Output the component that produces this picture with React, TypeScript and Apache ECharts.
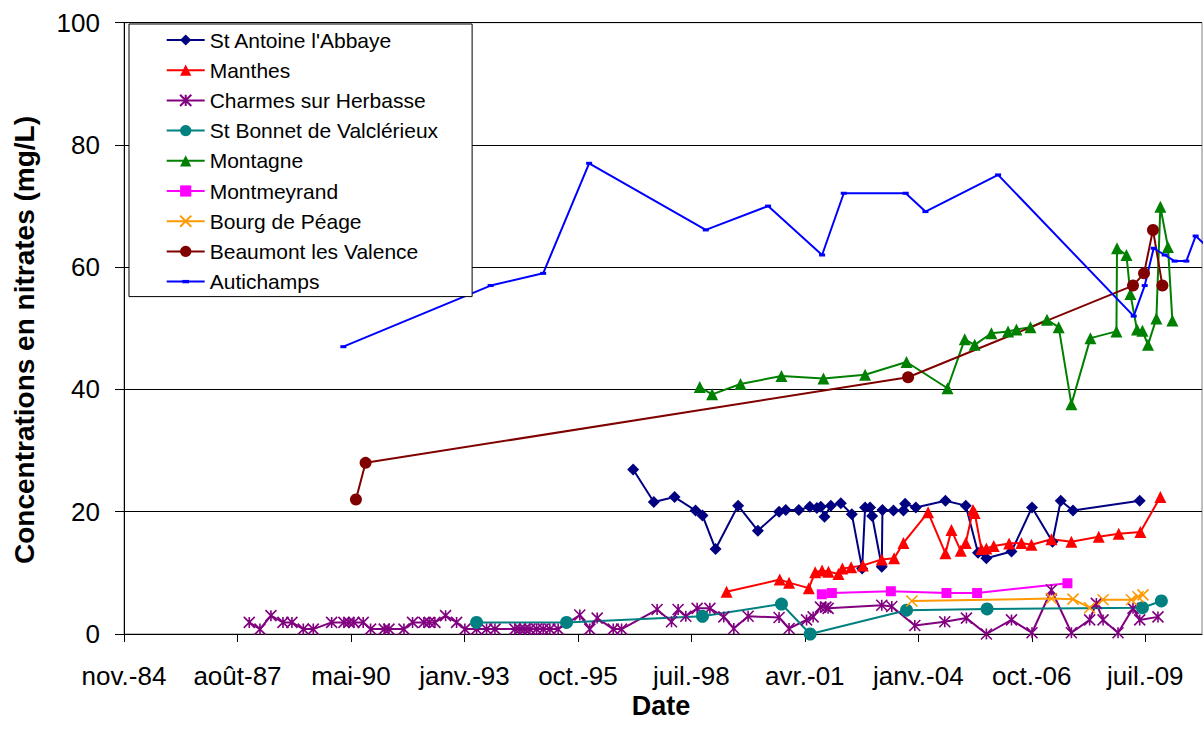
import React, { useEffect, useRef } from 'react';
import * as echarts from 'echarts';

// ---- data (date, nitrates mg/L) ----
const stAntoine: [string, number][] = [
  ['1997-02-26', 26.9], ['1997-08-27', 21.6], ['1998-02-26', 22.4], ['1998-08-30', 20.2], ['1998-10-30', 19.4],
  ['1999-02-22', 13.9], ['1999-09-09', 21.0], ['2000-03-01', 16.9], ['2000-09-04', 20.0], ['2000-11-02', 20.3],
  ['2001-02-25', 20.3], ['2001-06-02', 20.8], ['2001-08-03', 20.6], ['2001-09-07', 20.8], ['2001-10-09', 19.2],
  ['2001-12-04', 21.0], ['2002-03-02', 21.4], ['2002-06-07', 19.6], ['2002-09-06', 10.7], ['2002-10-02', 20.7],
  ['2002-11-15', 20.7], ['2002-12-03', 19.3], ['2003-02-26', 11.0], ['2003-03-04', 20.3], ['2003-06-09', 20.2],
  ['2003-09-05', 20.2], ['2003-09-20', 21.3], ['2003-12-23', 20.7], ['2004-09-09', 21.8], ['2005-03-07', 21.0],
  ['2005-06-23', 13.3], ['2005-09-05', 12.4], ['2006-04-14', 13.5], ['2006-10-12', 20.7], ['2007-04-10', 15.1],
  ['2007-06-22', 21.8], ['2007-10-08', 20.2], ['2009-05-18', 21.8],
];
const manthes: [string, number][] = [
  ['1999-05-30', 6.9], ['2000-09-10', 8.9], ['2000-12-01', 8.4], ['2001-05-24', 7.5], ['2001-07-19', 10.1],
  ['2001-09-18', 10.4], ['2001-11-13', 10.2], ['2002-02-09', 9.8], ['2002-03-16', 10.7], ['2002-06-01', 10.9],
  ['2002-09-12', 11.2], ['2003-02-26', 12.2], ['2003-06-15', 12.4], ['2003-09-05', 14.9], ['2004-04-09', 19.9],
  ['2004-09-09', 13.2], ['2004-11-01', 17.0], ['2005-01-22', 13.6], ['2005-03-07', 14.9], ['2005-05-10', 20.3],
  ['2005-05-25', 19.8], ['2005-07-23', 13.9], ['2005-09-05', 14.0], ['2005-11-09', 14.4], ['2006-03-24', 14.8],
  ['2006-07-11', 14.9], ['2006-10-07', 14.6], ['2007-04-01', 15.5], ['2007-09-24', 15.1], ['2008-05-22', 15.9],
  ['2008-11-14', 16.4], ['2009-05-24', 16.7], ['2009-11-16', 22.4],
];
const charmes: [string, number][] = [
  ['1987-11-23', 1.9], ['1988-02-25', 0.8], ['1988-06-01', 3.0], ['1988-09-15', 1.9], ['1988-12-03', 1.9],
  ['1989-03-13', 0.8], ['1989-06-09', 0.8], ['1989-11-18', 1.9], ['1990-03-06', 1.9], ['1990-04-19', 1.9],
  ['1990-06-02', 1.9], ['1990-08-23', 1.9], ['1990-10-27', 0.8], ['1991-02-24', 0.8], ['1991-04-07', 0.8],
  ['1991-08-17', 0.8], ['1991-11-01', 1.9], ['1992-02-09', 1.9], ['1992-03-27', 1.9], ['1992-05-16', 1.9],
  ['1992-08-18', 3.0], ['1992-11-23', 1.9], ['1993-02-04', 0.8], ['1993-05-18', 0.8], ['1993-08-14', 0.8],
  ['1993-10-27', 0.8], ['1994-04-21', 0.8], ['1994-06-04', 0.8], ['1994-07-18', 0.8], ['1994-08-31', 0.8],
  ['1994-10-29', 0.8], ['1994-12-26', 0.8], ['1995-02-23', 0.8], ['1995-05-07', 0.8], ['1995-11-14', 3.1],
  ['1996-02-10', 0.8], ['1996-04-15', 2.6], ['1996-09-03', 0.8], ['1996-11-16', 0.8], ['1997-09-25', 4.0],
  ['1998-01-30', 2.0], ['1998-03-29', 4.0], ['1998-06-05', 2.9], ['1998-09-13', 4.2], ['1999-01-03', 4.2],
  ['1999-05-06', 2.8], ['1999-08-02', 0.9], ['1999-12-06', 2.9], ['2000-09-04', 2.7], ['2000-12-01', 0.9],
  ['2001-05-04', 2.3], ['2001-07-01', 2.8], ['2001-09-04', 4.4], ['2001-10-21', 4.4], ['2001-11-10', 4.2],
  ['2003-02-26', 4.7], ['2003-05-25', 4.5], ['2003-12-14', 1.4], ['2004-09-03', 2.0], ['2005-03-13', 2.6],
  ['2005-09-05', 0.0], ['2006-04-14', 2.3], ['2006-10-12', 0.2], ['2007-04-01', 7.2], ['2007-09-24', 0.2],
  ['2008-03-03', 2.3], ['2008-05-01', 5.0], ['2008-06-29', 2.3], ['2008-11-08', 0.2], ['2009-03-20', 4.2],
  ['2009-05-18', 2.3], ['2009-10-26', 2.8],
];
const stBonnet: [string, number][] = [
  ['1993-05-18', 1.9], ['1995-07-20', 1.9], ['1998-10-30', 2.9], ['2000-09-25', 4.9], ['2001-06-05', 0.0],
  ['2003-10-02', 3.9], ['2005-09-11', 4.1], ['2009-06-11', 4.3], ['2009-11-25', 5.4],
];
const montagne: [string, number][] = [
  ['1998-10-06', 40.4], ['1999-01-23', 39.2], ['1999-09-30', 40.9], ['2000-09-25', 42.2], ['2001-09-30', 41.8],
  ['2002-10-02', 42.4], ['2003-10-02', 44.5], ['2004-09-27', 40.2], ['2005-02-26', 48.2], ['2005-05-25', 47.3],
  ['2005-10-19', 49.2], ['2006-03-15', 49.5], ['2006-05-28', 49.8], ['2006-09-28', 50.2], ['2007-02-21', 51.4],
  ['2007-06-04', 50.2], ['2007-09-24', 37.6], ['2008-03-10', 48.4], ['2008-10-25', 49.5], ['2008-10-30', 63.1],
  ['2009-01-21', 62.0], ['2009-02-25', 55.6], ['2009-04-24', 49.8], ['2009-06-11', 49.6], ['2009-07-30', 47.3],
  ['2009-10-12', 51.6], ['2009-11-16', 69.9], ['2010-01-22', 63.3], ['2010-03-02', 51.3],
];
const montmeyrand: [string, number][] = [
  ['2001-09-16', 6.5], ['2001-12-13', 6.7], ['2003-05-17', 7.0], ['2004-09-18', 6.7], ['2005-06-15', 6.7],
  ['2007-08-20', 8.3],
];
const bourgDePeage: [string, number][] = [
  ['2003-11-18', 5.4], ['2007-04-01', 5.8], ['2007-10-08', 5.7], ['2008-03-03', 4.3], ['2008-06-29', 5.6],
  ['2009-03-06', 5.6], ['2009-05-03', 6.1], ['2009-06-16', 6.4],
];
const beaumont: [string, number][] = [
  ['1990-06-20', 22.0], ['1990-09-13', 28.0], ['2003-10-16', 42.0], ['2009-03-20', 57.0], ['2009-06-25', 59.0],
  ['2009-09-12', 66.1], ['2009-12-04', 57.0],
];
const autichamps: [string, number][] = [
  ['1990-03-01', 47.0], ['1993-09-19', 57.0], ['1994-12-26', 59.0], ['1996-02-04', 77.0], ['1998-11-28', 66.1],
  ['2000-05-30', 70.0], ['2001-09-18', 62.0], ['2002-03-28', 72.1], ['2003-09-25', 72.1], ['2004-03-17', 69.1],
  ['2005-12-17', 75.1], ['2009-03-26', 52.0], ['2009-07-01', 57.0], ['2009-09-18', 63.1], ['2009-12-24', 62.0],
  ['2010-03-22', 61.0], ['2010-07-03', 61.0], ['2010-09-23', 65.1], ['2010-12-20', 63.6],
];

const seriesNames = [
  "St Antoine l'Abbaye", 'Manthes', 'Charmes sur Herbasse', 'St Bonnet de Valclérieux', 'Montagne',
  'Montmeyrand', 'Bourg de Péage', 'Beaumont les Valence', 'Autichamps',
];
// x ticks are Excel day serials (every 1000 days from nov.-84)
const xTickSerials = [31000, 32000, 33000, 34000, 35000, 36000, 37000, 38000, 39000, 40000];
const monthNames = ['janv.', 'févr.', 'mars', 'avr.', 'mai', 'juin', 'juil.', 'août', 'sept.', 'oct.', 'nov.', 'déc.'];

const FONT = '"Liberation Sans", Arial, Helvetica, sans-serif';

function toSerial(s: string): number {
  const [y, m, d] = s.split('-').map(Number);
  return Date.UTC(y, m - 1, d) / 86400000 + 25569;
}
function serialLabel(v: number): string {
  if (Math.abs(v % 1000) > 0.001) return '';
  const dt = new Date((v - 25569) * 86400000);
  return monthNames[dt.getUTCMonth()] + '-' + String(dt.getUTCFullYear() % 100).padStart(2, '0');
}
const pts = (arr: [string, number][]) => arr.map(([d, v]) => [toSerial(d), v]);

const ASTERISK = 'path://M0,0L10,10M0,10L10,0M5,0L5,10';
const CROSS = 'path://M0,0L10,10M0,10L10,0';
const DASH = 'path://M0,0M10,10M2,3.5L8,3.5L8,6.5L2,6.5Z';

export default function App() {
  const ref = useRef<HTMLDivElement>(null);
  useEffect(() => {
    if (!ref.current) return;
    const chart = echarts.init(ref.current, undefined, { renderer: 'svg' });
    const mk = (name: string, data: [string, number][], color: string, symbol: string, size: number, stroke = false) => ({
      name,
      type: 'line',
      data: pts(data),
      symbol,
      symbolSize: size,
      showSymbol: true,
      showAllSymbol: true,
      lineStyle: { color, width: 2 },
      itemStyle: stroke
        ? { color, borderColor: color, borderWidth: 1.6 }
        : { color, borderWidth: 0 },
      emphasis: { disabled: true },
      z: 2,
    });
    chart.setOption({
      animation: false,
      backgroundColor: '#fff',
      grid: { left: 124, right: 2, top: 22.7, bottom: 110, show: true, borderColor: '#808080', borderWidth: 1 },
      xAxis: {
        type: 'value',
        min: 31000,
        max: 40500,
        interval: 1000,
        axisLine: { show: true, lineStyle: { color: '#000', width: 1 } },
        axisTick: { show: true, length: 8, lineStyle: { color: '#000' }, customValues: xTickSerials },
        axisLabel: {
          customValues: xTickSerials,
          formatter: serialLabel,
          color: '#000',
          fontFamily: FONT,
          fontSize: 26,
          margin: 29,
        },
        splitLine: { show: false },
      },
      yAxis: {
        type: 'value',
        min: 0,
        max: 100,
        interval: 20,
        axisLine: { show: true, lineStyle: { color: '#000', width: 1 } },
        axisTick: { show: true, length: 9, lineStyle: { color: '#000' } },
        axisLabel: { color: '#000', fontFamily: FONT, fontSize: 26, margin: 24 },
        splitLine: { show: true, lineStyle: { color: '#000', width: 1 } },
      },
      legend: {
        orient: 'vertical',
        left: 129,
        top: 24,
        data: seriesNames,
        selectedMode: false,
        backgroundColor: '#fff',
        borderColor: '#000',
        borderWidth: 1,
        padding: [1, 34, 0, 36.7],
        itemWidth: 38,
        itemHeight: 14,
        itemGap: 0.2,
        textStyle: { color: '#000', fontFamily: FONT, fontSize: 21, lineHeight: 30 },
        z: 10,
      },
      graphic: [
        {
          type: 'text',
          x: 24,
          y: 340,
          rotation: Math.PI / 2,
          style: {
            text: 'Concentrations en nitrates (mg/L)',
            fill: '#000',
            fontFamily: FONT,
            fontSize: 28,
            fontWeight: 'bold',
            align: 'center',
            verticalAlign: 'middle',
          },
        },
        {
          type: 'text',
          x: 661,
          y: 706,
          style: {
            text: 'Date',
            fill: '#000',
            fontFamily: FONT,
            fontSize: 27,
            fontWeight: 'bold',
            align: 'center',
            verticalAlign: 'middle',
          },
        },
      ],
      series: [
        mk(seriesNames[0], stAntoine, '#000080', 'diamond', 12),
        mk(seriesNames[1], manthes, '#FF0000', 'triangle', 12),
        mk(seriesNames[2], charmes, '#800080', ASTERISK, 11, true),
        mk(seriesNames[3], stBonnet, '#008080', 'circle', 13),
        mk(seriesNames[4], montagne, '#008000', 'triangle', 12),
        mk(seriesNames[5], montmeyrand, '#FF00FF', 'rect', 10),
        mk(seriesNames[6], bourgDePeage, '#FF9900', CROSS, 11, true),
        mk(seriesNames[7], beaumont, '#800000', 'circle', 12),
        mk(seriesNames[8], autichamps, '#0000FF', DASH, 10),
      ],
    });
    return () => chart.dispose();
  }, []);
  return <div ref={ref} style={{ position: 'fixed', left: 0, top: 0, width: 1204, height: 744 }} />;
}
